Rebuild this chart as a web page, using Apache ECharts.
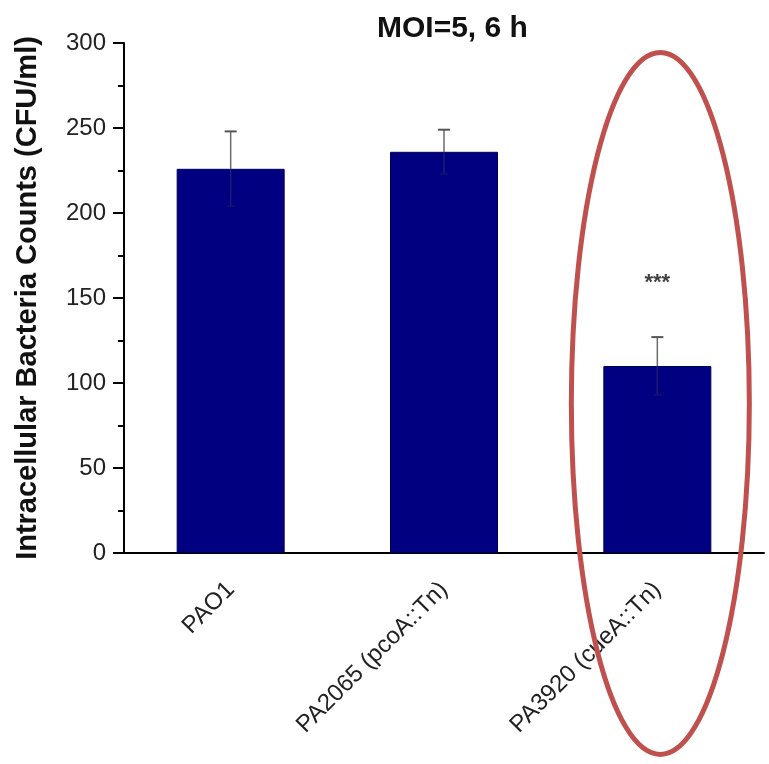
<!DOCTYPE html>
<html>
<head>
<meta charset="utf-8">
<script src="https://cdn.jsdelivr.net/npm/echarts@6/dist/echarts.min.js"></script>
<style>
html,body{margin:0;padding:0;background:#fff;}
#chart{width:769px;height:764px;}
</style>
</head>
<body>
<div id="chart"></div>
<script>
// ---- data ----
const categories = ['PAO1', 'PA2065 (pcoA::Tn)', 'PA3920 (cueA::Tn)'];
const means = [226, 236, 110];
const errors = [22, 13, 17];
const sigLabels = ['', '', '***'];
const sigValues = [null, null, 159];
const yTicks = [0, 50, 100, 150, 200, 250, 300];
const titleText = 'MOI=5, 6 h';
const yName = 'Intracellular Bacteria Counts (CFU/ml)';
const highlightIndex = 2;

const FONT = '"Liberation Sans", Arial, Helvetica, sans-serif';

const chart = echarts.init(document.getElementById('chart'), null, {renderer: 'canvas'});

function renderErr(params, api) {
  const x = api.value(0), m = api.value(1), sd = api.value(2);
  const pm = api.coord([x, m]);
  const pt = api.coord([x, m + sd]);
  const pb = api.coord([x, m - sd]);
  const hw = 6;
  return {
    type: 'group',
    children: [
      {type: 'line', shape: {x1: pm[0], y1: pm[1], x2: pt[0], y2: pt[1]}, style: {stroke: '#6b6b6b', lineWidth: 1.5}},
      {type: 'line', shape: {x1: pt[0] - hw, y1: pt[1], x2: pt[0] + hw, y2: pt[1]}, style: {stroke: '#555', lineWidth: 2}},
      {type: 'line', shape: {x1: pb[0], y1: pb[1], x2: pm[0], y2: pm[1]}, style: {stroke: '#1c1c72', lineWidth: 1.5}},
      {type: 'line', shape: {x1: pb[0] - 4, y1: pb[1], x2: pb[0] + 4, y2: pb[1]}, style: {stroke: '#14146a', lineWidth: 1.5}}
    ]
  };
}

const option = {
  backgroundColor: '#fff',
  animation: false,
  title: {
    text: titleText,
    left: 377,
    top: 14,
    padding: 0,
    textStyle: {fontFamily: FONT, fontSize: 30, fontWeight: 'bold', color: '#111'}
  },
  grid: {left: 124, right: 5, top: 43, bottom: 211, containLabel: false},
  xAxis: {
    type: 'category',
    data: categories,
    axisLine: {lineStyle: {color: '#000', width: 2}},
    axisTick: {alignWithLabel: true, length: 12, lineStyle: {color: '#000', width: 2}},
    axisLabel: {
      rotate: 45, fontSize: 24, fontFamily: FONT, color: '#222',
      margin: 33, interval: 0
    },
    splitLine: {show: false}
  },
  yAxis: {
    type: 'value',
    min: yTicks[0], max: yTicks[yTicks.length - 1], interval: 50,
    name: yName,
    nameLocation: 'middle',
    nameGap: 82,
    nameTextStyle: {fontFamily: FONT, fontSize: 29, fontWeight: 'bold', color: '#111'},
    axisLine: {show: true, lineStyle: {color: '#000', width: 2}},
    axisTick: {show: true, length: 11, lineStyle: {color: '#000', width: 2}},
    minorTick: {show: true, splitNumber: 2, length: 6, lineStyle: {color: '#000', width: 2}},
    axisLabel: {fontSize: 24, fontFamily: FONT, color: '#222', margin: 18},
    splitLine: {show: false}
  },
  series: [
    {
      type: 'bar',
      data: means,
      barWidth: 108,
      itemStyle: {color: '#000080', borderColor: '#00005a', borderWidth: 1}
    },
    {
      type: 'custom',
      renderItem: renderErr,
      data: means.map((m, i) => [i, m, errors[i]]),
      z: 5
    },
    {
      type: 'scatter',
      symbolSize: 0,
      data: sigValues.map((v, i) => v === null ? null : [i, v, sigLabels[i]]).filter(d => d),
      label: {
        show: true, position: 'inside',
        formatter: p => p.value[2],
        fontFamily: FONT, fontSize: 22, fontWeight: 'bold', color: '#111'
      }
    }
  ]
};

chart.setOption(option);

// highlight ellipse around the third group
const c = chart.convertToPixel({xAxisIndex: 0, yAxisIndex: 0}, [highlightIndex, 88]);
chart.setOption({
  graphic: [{
    type: 'ellipse',
    shape: {cx: c[0] + 3, cy: c[1], rx: 89, ry: 351},
    style: {fill: null, stroke: '#c0504d', lineWidth: 5},
    z: 100
  }]
});
</script>
</body>
</html>
